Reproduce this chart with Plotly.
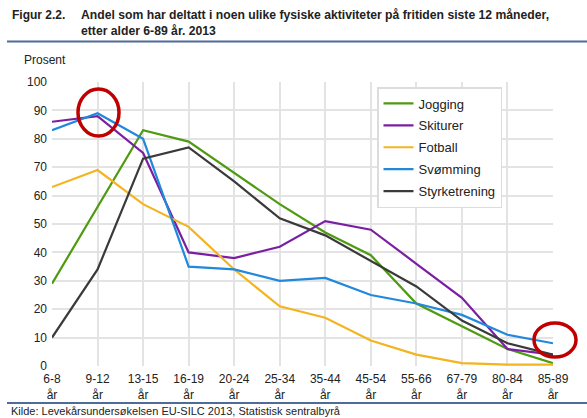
import plotly.graph_objects as go

# Age groups (x categories)
age_groups = ["6-8<br>år", "9-12<br>år", "13-15<br>år", "16-19<br>år", "20-24<br>år",
              "25-34<br>år", "35-44<br>år", "45-54<br>år", "55-66<br>år", "67-79<br>år",
              "80-84<br>år", "85-89<br>år"]

# Share (per cent) taking part in each activity
jogging = [29, 56, 83, 79, 68, 57, 47, 39, 22, 14, 6, 1]
skiturer = [86, 88, 75, 40, 38, 42, 51, 48, 36, 24, 6, 4]
fotball = [63, 69, 57, 49, 34, 21, 17, 9, 4, 1, 0.5, 0.5]
svomming = [83, 89, 80, 35, 34, 30, 31, 25, 22, 18, 11, 8]
styrke = [10, 34, 73, 77, 65, 52, 46, 37, 28, 16, 8, 4]

series = [
    ("Jogging", jogging, "#4e9a10"),
    ("Skiturer", skiturer, "#7b1fa2"),
    ("Fotball", fotball, "#f4b41f"),
    ("Svømming", svomming, "#2188dc"),
    ("Styrketrening", styrke, "#3a3a3a"),
]

W, H = 587, 418
L, R, T, B = 52, 34, 82, 52
PW, PH = W - L - R, H - T - B


def px_x(p):
    return (p - L) / PW


def px_y(p):
    return (H - B - p) / PH


FONT = "Liberation Sans, Arial, sans-serif"
TXT = "#222222"

fig = go.Figure()
for name, vals, color in series:
    fig.add_trace(go.Scatter(x=age_groups, y=vals, name=name, mode="lines",
                             legendgroup=name,
                             line=dict(color=color, width=2.2)))

fig.update_layout(
    width=W, height=H,
    margin=dict(l=L, r=R, t=T, b=B),
    paper_bgcolor="white", plot_bgcolor="white",
    font=dict(family=FONT, size=12, color=TXT),
    showlegend=True,
    legend=dict(x=px_x(377), y=px_y(87), xanchor="left", yanchor="top",
                bgcolor="white", bordercolor="#dcdcdc", borderwidth=1.5,
                font=dict(size=13, color=TXT), tracegroupgap=2),
    xaxis=dict(type="category", range=[0, 11], showgrid=True, gridcolor="#e3e3e3",
               gridwidth=1.5, zeroline=False, showline=False, ticks="",
               tickfont=dict(size=12, color=TXT), ticklabelstandoff=4),
    yaxis=dict(range=[0, 100], dtick=10, showgrid=True, gridcolor="#e3e3e3",
               gridwidth=1.5, zeroline=False, showline=False, ticks="",
               tickfont=dict(size=12, color=TXT), ticklabelstandoff=4),
)

# Header, unit label and source
fig.add_annotation(xref="paper", yref="paper", x=px_x(10), y=px_y(6), xanchor="left",
                   yanchor="top", text="<b>Figur 2.2.</b>", showarrow=False,
                   font=dict(size=12, color=TXT))
fig.add_annotation(xref="paper", yref="paper", x=px_x(79), y=px_y(6), xanchor="left",
                   yanchor="top", align="left",
                   text="<b>Andel som har deltatt i noen ulike fysiske aktiviteter på fritiden siste 12 måneder,"
                        "<br>etter alder 6-89 år. 2013</b>",
                   showarrow=False, font=dict(size=12.2, color=TXT))
fig.add_annotation(xref="paper", yref="paper", x=px_x(22), y=px_y(60), xanchor="left",
                   yanchor="middle", text="Prosent", showarrow=False,
                   font=dict(size=12, color=TXT))
fig.add_annotation(xref="paper", yref="paper", x=px_x(9), y=px_y(411), xanchor="left",
                   yanchor="middle",
                   text="Kilde: Levekårsundersøkelsen EU-SILC 2013, Statistisk sentralbyrå",
                   showarrow=False, font=dict(size=11, color=TXT))

# Rules under the header and above the source
for yy in (41.5, 403):
    fig.add_shape(type="line", xref="paper", yref="paper", x0=px_x(7), x1=px_x(587),
                  y0=px_y(yy), y1=px_y(yy), line=dict(color="#4f6b98", width=2))

# Highlight rings
for x0, x1, y0, y1 in ((78, 119, 136, 89), (534, 576, 357, 323)):
    fig.add_shape(type="circle", xref="x domain", yref="y domain",
                  x0=px_x(x0), x1=px_x(x1), y0=px_y(y0), y1=px_y(y1),
                  line=dict(color="#c00000", width=3.5))

fig.write_html("out.html")
